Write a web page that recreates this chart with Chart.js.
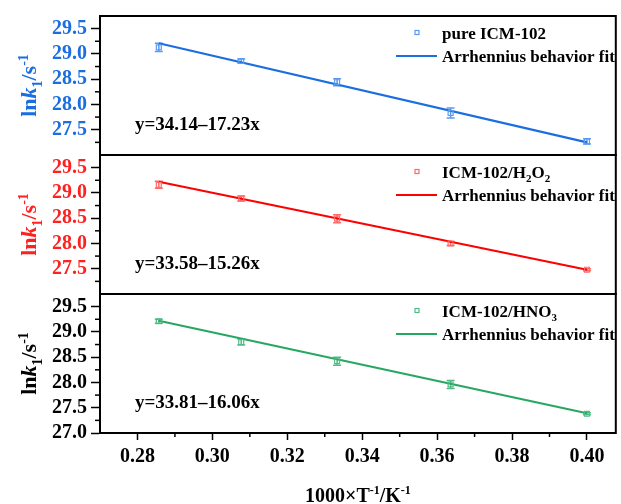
<!DOCTYPE html>
<html>
<head>
<meta charset="utf-8">
<script src="https://cdn.jsdelivr.net/npm/chart.js@4.4.0/dist/chart.umd.min.js"></script>
<style>
  html, body { margin: 0; padding: 0; background: #fff; }
  #wrap { position: relative; width: 621px; height: 504px; }
</style>
</head>
<body>
<div id="wrap"><canvas id="arrhenius" width="621" height="504"></canvas></div>
<script>
// 1000/T values (T = 3500, 3250, 3000, 2750, 2500 K)
const invT = [0.2857, 0.3077, 0.3333, 0.3636, 0.4000];

const lnkPure = [29.13, 28.86, 28.44, 27.83, 27.27];
const errPure = [0.08, 0.04, 0.07, 0.10, 0.05];
const lnkH2O2 = [29.16, 28.89, 28.49, 28.00, 27.48];
const errH2O2 = [0.07, 0.05, 0.08, 0.04, 0.02];
const lnkHNO3 = [29.21, 28.80, 28.42, 27.96, 27.38];
const errHNO3 = [0.04, 0.06, 0.08, 0.08, 0.02];

// fitted line end points
const fitX = [0.2857, 0.4000];
const fitPure = [29.21, 27.25];
const fitH2O2 = [29.22, 27.48];
const fitHNO3 = [29.22, 27.39];

const xTicks = [0.28, 0.30, 0.32, 0.34, 0.36, 0.38, 0.40];
const xMinor = [0.29, 0.31, 0.33, 0.35, 0.37, 0.39];
const yTicksUpper = [27.5, 28.0, 28.5, 29.0, 29.5];
const yTicksLower = [27.0, 27.5, 28.0, 28.5, 29.0, 29.5];
const yMinor = [27.25, 27.75, 28.25, 28.75, 29.25];

const SERIF = '"Liberation Serif", "Times New Roman", serif';
const Y_MIN = 27.0, Y_MAX = 29.75;

const panels = [
  { id: 'yA', lnk: lnkPure, err: errPure, fit: fitPure, ticks: yTicksUpper,
    color: '#1a6ee0', light: '#5a9af0', axisColor: '#1a6ee0',
    name: [['pure ICM-102', '']], eq: 'y=34.14\u201317.23x' },
  { id: 'yB', lnk: lnkH2O2, err: errH2O2, fit: fitH2O2, ticks: yTicksUpper,
    color: '#ff0000', light: '#ff6a6a', axisColor: '#ff2020',
    name: [['ICM-102/H', ''], ['2', 'sub'], ['O', ''], ['2', 'sub']], eq: 'y=33.58\u201315.26x' },
  { id: 'yC', lnk: lnkHNO3, err: errHNO3, fit: fitHNO3, ticks: yTicksLower,
    color: '#27a862', light: '#52bc86', axisColor: '#000000',
    name: [['ICM-102/HNO', ''], ['3', 'sub']], eq: 'y=33.81\u201316.06x' }
];

function partFont(mode, size) {
  const s = (mode === 'sub' || mode === 'sup') ? Math.round(size * 0.62) : size;
  return (mode === 'i' ? 'italic ' : '') + 'bold ' + s + 'px ' + SERIF;
}

function richWidth(ctx, parts, size) {
  let w = 0;
  parts.forEach(([t, m]) => { ctx.font = partFont(m, size); w += ctx.measureText(t).width; });
  return w;
}

function drawRich(ctx, parts, x, y, size, color) {
  ctx.fillStyle = color;
  ctx.textBaseline = 'alphabetic';
  ctx.textAlign = 'left';
  parts.forEach(([t, m]) => {
    ctx.font = partFont(m, size);
    let dy = 0;
    if (m === 'sub') dy = size * 0.28;
    if (m === 'sup') dy = -size * 0.38;
    ctx.fillText(t, x, y + dy);
    x += ctx.measureText(t).width;
  });
}

function yScale(p) {
  return {
    type: 'linear', position: 'left', stack: 'panels', stackWeight: 1,
    min: Y_MIN, max: Y_MAX,
    afterFit: s => { s.width = 100; },
    afterBuildTicks: s => { s.ticks = p.ticks.map(v => ({ value: v })); },
    grid: { display: true, drawOnChartArea: false, drawTicks: true, tickLength: 9, tickWidth: 1.5, tickColor: '#000' },
    border: { display: true, width: 2, color: '#000' },
    ticks: { color: p.axisColor, padding: 4, autoSkip: false, font: { family: SERIF, size: 20, weight: 'bold' },
      callback: v => Number(v).toFixed(1) }
  };
}

const datasets = [];
panels.forEach(p => {
  datasets.push({
    yAxisID: p.id, showLine: false,
    data: invT.map((x, i) => ({ x, y: p.lnk[i] })),
    pointStyle: 'rect', pointRadius: 3.5, borderWidth: 1.2,
    borderColor: p.light, backgroundColor: 'rgba(255,255,255,0)'
  });
  datasets.push({
    yAxisID: p.id, showLine: true,
    data: fitX.map((x, i) => ({ x, y: p.fit[i] })),
    pointRadius: 0, borderWidth: 2.2, borderColor: p.color, backgroundColor: p.color
  });
});

const decor = {
  id: 'decor',
  beforeDatasetsDraw(chart) {
    const ctx = chart.ctx, xs = chart.scales.x;
    ctx.save();
    panels.forEach(p => {
      const ys = chart.scales[p.id];
      ctx.strokeStyle = p.light;
      ctx.lineWidth = 1.5;
      invT.forEach((v, i) => {
        const x = xs.getPixelForValue(v);
        const y1 = ys.getPixelForValue(p.lnk[i] + p.err[i]);
        const y2 = ys.getPixelForValue(p.lnk[i] - p.err[i]);
        ctx.beginPath();
        ctx.moveTo(x, y1); ctx.lineTo(x, y2);
        ctx.moveTo(x - 4, y1); ctx.lineTo(x + 4, y1);
        ctx.moveTo(x - 4, y2); ctx.lineTo(x + 4, y2);
        ctx.stroke();
      });
    });
    ctx.restore();
  },
  afterDraw(chart) {
    const ctx = chart.ctx, ca = chart.chartArea, xs = chart.scales.x;
    ctx.save();
    ctx.strokeStyle = '#000';

    // minor ticks
    ctx.lineWidth = 1.5;
    xMinor.forEach(v => {
      const x = xs.getPixelForValue(v);
      ctx.beginPath(); ctx.moveTo(x, ca.bottom); ctx.lineTo(x, ca.bottom + 4); ctx.stroke();
    });
    panels.forEach(p => {
      const ys = chart.scales[p.id];
      yMinor.forEach(v => {
        const y = ys.getPixelForValue(v);
        ctx.beginPath(); ctx.moveTo(ca.left, y); ctx.lineTo(ca.left - 5, y); ctx.stroke();
      });
    });

    panels.forEach(p => {
      const ys = chart.scales[p.id];
      const top = ys.top, bottom = ys.bottom;

      // frame
      ctx.strokeStyle = '#000';
      ctx.lineWidth = 2;
      ctx.strokeRect(ca.left, top, ca.right - ca.left, bottom - top);

      // legend
      ctx.strokeStyle = p.light;
      ctx.lineWidth = 1.2;
      ctx.strokeRect(415, top + 14.5, 4, 4);
      drawRich(ctx, p.name, 442, top + 22.5, 17, '#000');
      ctx.strokeStyle = p.color;
      ctx.lineWidth = 2.2;
      ctx.beginPath(); ctx.moveTo(396, top + 40); ctx.lineTo(437, top + 40); ctx.stroke();
      drawRich(ctx, [['Arrhennius behavior fit', '']], 442, top + 46, 17, '#000');

      // equation
      drawRich(ctx, [[p.eq, '']], 135, top + 114, 19, '#000');

      // y title
      const title = [['ln', ''], ['k', 'i'], ['1', 'sub'], ['/s', ''], ['-1', 'sup']];
      const w = richWidth(ctx, title, 22);
      ctx.save();
      ctx.translate(36, (top + bottom) / 2);
      ctx.rotate(-Math.PI / 2);
      drawRich(ctx, title, -w / 2, 0, 22, p.axisColor);
      ctx.restore();
    });

    // x title
    const xt = [['1000\u00d7T', ''], ['-1', 'sup'], ['/K', ''], ['-1', 'sup']];
    const wx = richWidth(ctx, xt, 20);
    drawRich(ctx, xt, (ca.left + ca.right) / 2 - wx / 2, 502, 20, '#000');
    ctx.restore();
  }
};

new Chart(document.getElementById('arrhenius'), {
  type: 'scatter',
  data: { datasets },
  options: {
    responsive: false,
    animation: false,
    devicePixelRatio: 1,
    layout: { padding: { top: 13, right: 3, left: 0, bottom: 0 } },
    plugins: { legend: { display: false }, tooltip: { enabled: false } },
    scales: {
      x: {
        type: 'linear', min: 0.27, max: 0.4077,
        afterFit: s => { s.height = 71; },
        afterBuildTicks: s => { s.ticks = xTicks.map(v => ({ value: v })); },
        grid: { display: true, drawOnChartArea: false, drawTicks: true, tickLength: 7, tickWidth: 1.5, tickColor: '#000' },
        border: { display: true, width: 2, color: '#000' },
        ticks: { color: '#000', padding: 5, autoSkip: false, maxRotation: 0, font: { family: SERIF, size: 20, weight: 'bold' },
          callback: v => Number(v).toFixed(2) }
      },
      yC: yScale(panels[2]),
      yB: yScale(panels[1]),
      yA: yScale(panels[0])
    }
  },
  plugins: [decor]
});
</script>
</body>
</html>
